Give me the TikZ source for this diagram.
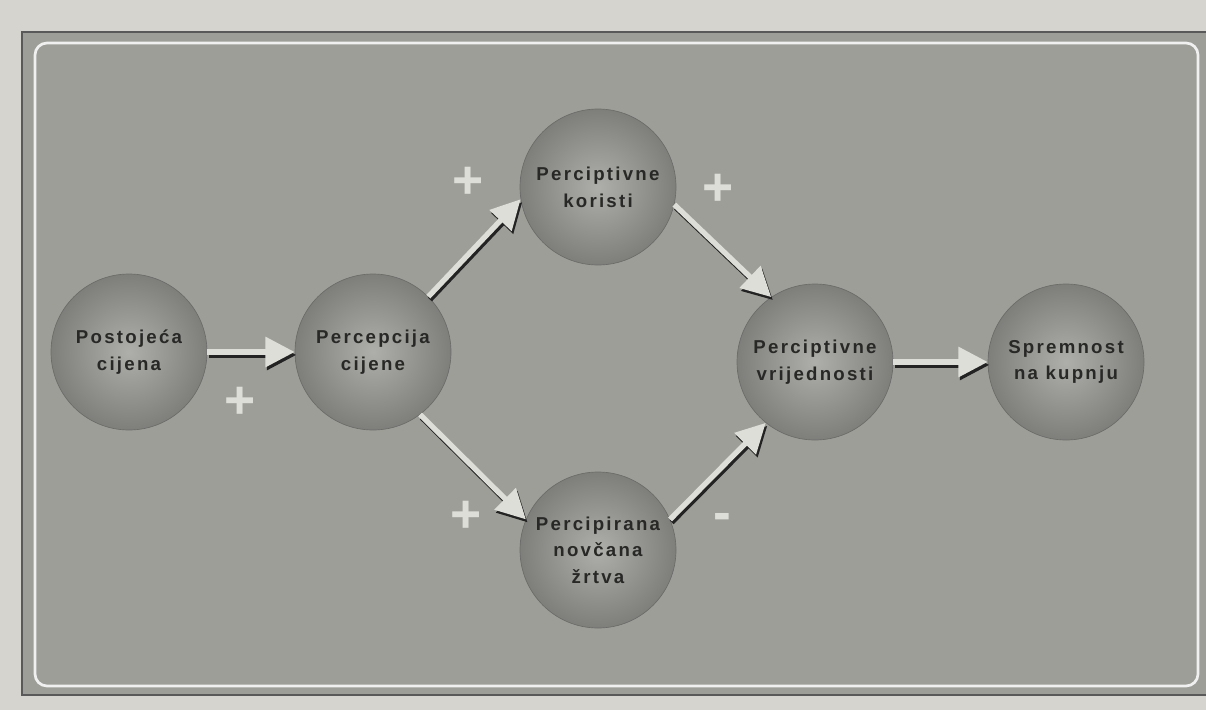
\documentclass[tikz,border=0pt]{standalone}
\usepackage{fontspec}
\setmainfont{Liberation Sans}
\newfontfamily\labelfont[LetterSpace=12]{Liberation Sans}
\usetikzlibrary{arrows.meta}

\definecolor{pagebg}{RGB}{214,212,207}
\definecolor{panelgray}{RGB}{158,158,153}
\definecolor{ballin}{RGB}{174,174,170}
\definecolor{ballout}{RGB}{126,126,123}
\definecolor{inktext}{RGB}{40,40,38}
\definecolor{arrowfill}{RGB}{222,222,217}
\definecolor{shadowc}{RGB}{35,35,35}

\begin{document}
\begin{tikzpicture}[
  x=0.75pt, y=-0.75pt,
  ball/.style={circle, minimum size=117pt, inner sep=0pt, draw=ballout!85!black, line width=0.5pt,
    inner color=ballin, outer color=ballout, text=inktext, align=center,
    font=\labelfont\bfseries\fontsize{14}{20}\selectfont},
  sign/.style={text=arrowfill, inner sep=0pt, font=\bfseries\fontsize{40}{40}\selectfont},
  link/.style={draw=arrowfill, line width=4pt, -{Triangle[length=22pt,width=22pt]}},
  linkshadow/.style={link, draw=shadowc, transform canvas={shift={(1.2pt,-2.2pt)}}}
]
\useasboundingbox (0,0) rectangle (1206,710);

% page and panel
\fill[pagebg] (0,0) rectangle (1206,710);
\fill[panelgray] (22,32) rectangle (1206,695);
\draw[black!65, line width=0.8pt] (1206,32) -- (22,32) -- (22,695) -- (1206,695);
\draw[white!85!panelgray, line width=2pt, rounded corners=9pt] (35,43) rectangle (1198,686);

% circles
\node[ball] (post) at (129,352) {Postojeća\\cijena};
\node[ball] (perc) at (373,352) {Percepcija\\cijene};
\node[ball] (kor)  at (598,187) {Perciptivne\\koristi};
\node[ball] (zrt)  at (598,550) {Percipirana\\novčana\\žrtva};
\node[ball] (vr)   at (815,362) {Perciptivne\\vrijednosti};
\node[ball] (sp)   at (1066,362) {Spremnost\\na kupnju};

% arrows
\foreach \a/\b in {post.east/perc.west, perc.45/kor.189, kor.-13/vr.124,
                   perc.-53/zrt.157, zrt.23/vr.231, vr.east/sp.west}{
  \draw[linkshadow] (\a) -- (\b);
  \draw[link] (\a) -- (\b);
}

% signs
\node[sign] (s1) at (240,403) {+};
\node[sign] (s2) at (468,183) {+};
\node[sign] (s3) at (718,190) {+};
\node[sign] (s4) at (466,517) {+};
\node[sign] (s5) at (722,522) {-};
\end{tikzpicture}
\end{document}
